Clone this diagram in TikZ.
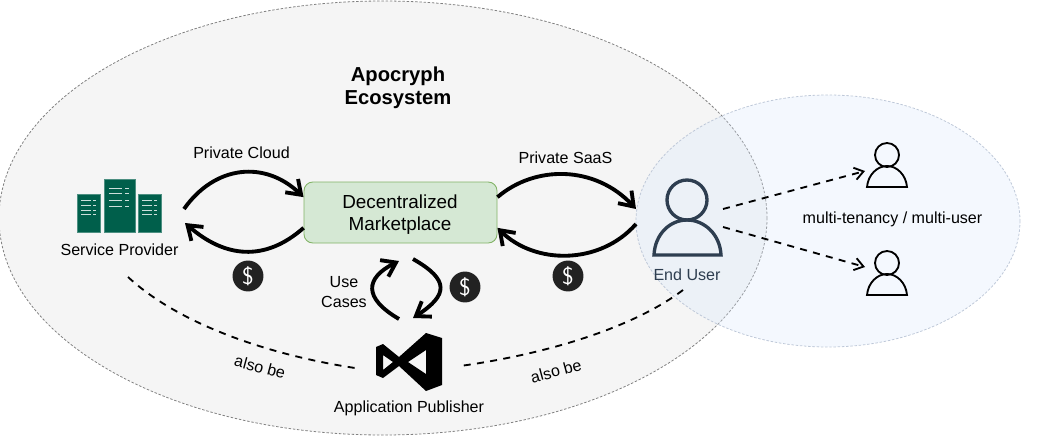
\documentclass[tikz,border=0pt]{standalone}
\usepackage{fontspec}
\setmainfont{Liberation Sans}
\usetikzlibrary{arrows.meta,positioning}
\definecolor{ServerClr}{RGB}{0,95,75}
\definecolor{UserClr}{RGB}{46,62,80}
\definecolor{BoxFill}{RGB}{213,232,212}
\definecolor{BoxLine}{RGB}{130,179,102}
\definecolor{RegionFill}{RGB}{245,245,245}
\definecolor{TenantFill}{RGB}{218,232,252}
\definecolor{TenantLine}{RGB}{190,200,216}
\definecolor{CoinClr}{RGB}{34,34,34}
\tikzset{
  lbl/.style={inner sep=0pt,align=center,font=\fontsize{9.15}{11.8}\selectfont},
  bigflow/.style={line width=2.2pt,-{Straight Barb[length=7.5pt,width=10.5pt,line width=2.2pt]}},
  alsobe/.style={line width=1.05pt,dash pattern=on 4pt off 3.6pt},
  tenant/.style={alsobe,-{Straight Barb[length=5pt,width=7pt,line width=1.05pt]}},
  coin/.style={circle,fill=CoinClr,text=white,minimum size=17.6pt,inner sep=0pt,font=\sffamily\fontsize{13.5}{14}\selectfont},
  rack/.style={fill=ServerClr,draw=ServerClr!70!white,line width=0.3pt},
  slot/.style={white!80!ServerClr,line width=0.45pt},
  region/.style={line width=0.45pt,dash pattern=on 1.4pt off 1pt},
}
\begin{document}
\begin{tikzpicture}[x=0.02cm,y=-0.02cm]
\useasboundingbox (0,0) rectangle (1043,436);

% the two regions
\draw[region,fill=RegionFill,draw=black!50] (383,218) ellipse[x radius=384,y radius=217];
\fill[TenantFill,fill opacity=0.3] (828,221) ellipse[x radius=192,y radius=126];
\draw[region,draw=TenantLine] (828,221) ellipse[x radius=192,y radius=126];

% server icon
\foreach \xa/\xb/\yt in {77/100/194,104/135/179,138/161/194}
  \draw[rack] (\xa,\yt) rectangle (\xb,232);
\foreach \xa/\xb/\yt in {81/91/200,81/91/205,81/91/210,81/91/214,142/152/200,142/152/205,142/152/210,142/152/214,
                         109/122/188,109/122/193,109/122/200,109/122/206}
  \draw[slot] (\xa,\yt) -- (\xb,\yt);
\foreach \xa/\xb/\yt in {93/96/200,93/96/205,93/96/210,93/96/214,154/157/200,154/157/205,154/157/210,154/157/214,
                         125/129/188,125/129/193,125/129/200,125/129/206}
  \draw[slot] (\xa,\yt) -- (\xb,\yt);

% publisher icon
\fill[black,even odd rule] (376,347) -- (383,344) -- (399,357) -- (426,333) -- (442,338) -- (442,385) -- (426,391)
  -- (399,366) -- (383,378) -- (376,375) -- cycle
  (383,355) -- (393,362) -- (383,370) -- cycle
  (426,350) -- (408,362) -- (426,374) -- cycle;

% user icons
\draw[UserClr,line width=1.9pt] (687,200) circle[radius=20];
\draw[UserClr,line width=1.9pt,line join=miter] (654,255) .. controls (655,234) and (670,220) .. (687,220)
  .. controls (704,220) and (720,234) .. (721,255) -- cycle;
\foreach \ya in {155,263}{
  \draw[black,line width=1.05pt] (887,\ya) circle[radius=12];
  \draw[black,line width=1.05pt] (867,\ya+32) .. controls (868,\ya+20) and (877,\ya+11) .. (887,\ya+11)
    .. controls (897,\ya+11) and (906,\ya+20) .. (907,\ya+32) -- cycle;
}

% nodes
\node[draw=BoxLine,fill=BoxFill,rounded corners=5pt,line width=0.5pt,minimum width=193*0.02cm,minimum height=61*0.02cm,
      lbl] (market) at (400.5,212.5) {};
\node[lbl,font=\fontsize{10.75}{12.6}\selectfont] (marketLbl) at (400,214.5) {Decentralized\\Marketplace};
\node[lbl,font=\bfseries\fontsize{11.5}{13.3}\selectfont] (title) at (398,88) {Apocryph\\Ecosystem};
\node[lbl] (cloudLbl) at (241.5,153) {Private Cloud};
\node[lbl] (saasLbl) at (565.5,158) {Private SaaS};
\node[lbl] (providerLbl) at (119.5,250) {Service Provider};
\node[lbl,text=UserClr] (userLbl) at (687,274.5) {End User};
\node[lbl] (tenancyLbl) at (892.5,219.5) {multi-tenancy / multi-user};
\node[lbl] (casesLbl) at (344,292) {Use\\Cases};
\node[lbl] (publisherLbl) at (409,408) {Application Publisher};
\node[lbl,rotate=-15] (alsoA) at (260,367) {also be};
\node[lbl,rotate=15] (alsoB) at (556,371) {also be};
\node[coin] (coinA) at (248,276) {\$};
\node[coin] (coinB) at (568,276) {\$};
\node[coin] (coinC) at (465,287) {\$};

% free ends
\coordinate (providerOut) at (184,209);
\coordinate (providerIn) at (185,223);
\coordinate (userIn) at (636,209);
\coordinate (userOut) at (636,224);
\coordinate (cycleTopL) at (399,261);
\coordinate (cycleTopR) at (413,259);
\coordinate (cycleBotL) at (399,319);
\coordinate (cycleBotR) at (413,318);
\coordinate (providerDash) at (128,277);
\coordinate (publisherL) at (355,368);
\coordinate (publisherR) at (460,366);
\coordinate (userDash) at (683,290);
\coordinate (tenantOutA) at (723,209);
\coordinate (tenantOutB) at (723,227);
\coordinate (tenantA) at (865,171);
\coordinate (tenantB) at (865,267);

% flows
\draw[bigflow] (providerOut) .. controls (215,165) and (265,160) .. (market.171);
\draw[bigflow] (market.189) .. controls (265,262) and (225,258) .. (providerIn);
\draw[bigflow] (market.9) .. controls (535,165) and (595,165) .. (userIn);
\draw[bigflow] (userOut) .. controls (600,265) and (535,265) .. (market.-9);
\draw[bigflow] (cycleBotL) .. controls (363,298) and (365,278) .. (cycleTopL);
\draw[bigflow] (cycleTopR) .. controls (450,280) and (448,295) .. (cycleBotR);

% dashed links
\draw[alsobe] (providerDash) .. controls (180,325) and (270,355) .. (publisherL);
\draw[alsobe] (userDash) .. controls (630,330) and (540,355) .. (publisherR);
\draw[tenant] (tenantOutA) -- (tenantA);
\draw[tenant] (tenantOutB) -- (tenantB);
\end{tikzpicture}
\end{document}
